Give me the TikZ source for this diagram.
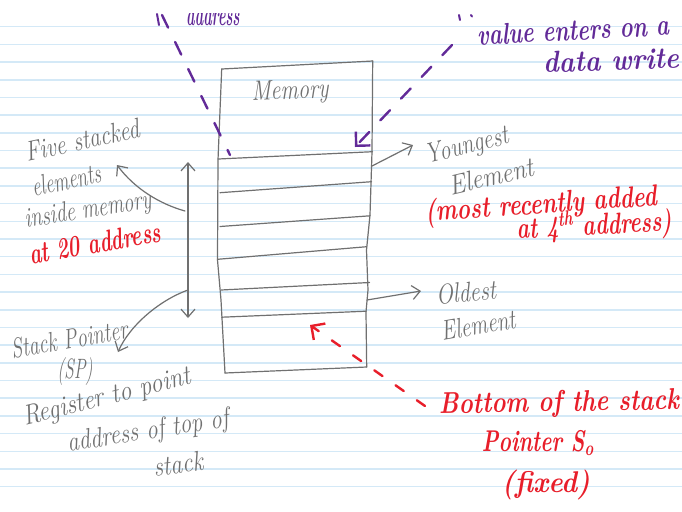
\documentclass[tikz,border=0pt]{standalone}
\usetikzlibrary{arrows.meta}
\newdimen\pxu \pxu=0.5pt
% squeeze a text horizontally to a given width (in drawing units)
\newcommand{\fitw}[2]{\resizebox{#1\pxu}{\height}{#2}}
\definecolor{ink}{RGB}{112,112,112}
\definecolor{redink}{RGB}{232,30,42}
\definecolor{purpleink}{RGB}{98,42,152}
\definecolor{rulecol}{RGB}{212,233,247}
\tikzset{
  ruling/.style={draw=rulecol, line width=0.75pt},
  pencil/.style={draw=ink, line width=0.6pt, line cap=round, line join=round},
  graytext/.style={text=ink, inner sep=0pt, font=\fontsize{14}{16}\selectfont\itshape},
  redtext/.style={text=redink, inner sep=0pt, font=\fontsize{15}{18}\selectfont\bfseries\itshape},
  purpletext/.style={text=purpleink, inner sep=0pt, font=\fontsize{15}{18}\selectfont\bfseries\itshape},
  purpledash/.style={draw=purpleink, line width=1.2pt, line cap=round, dash pattern=on 7pt off 8pt},
  reddash/.style={draw=redink, line width=1.2pt, line cap=round, dash pattern=on 5pt off 8pt},
  pentip/.style={>={Straight Barb[length=4pt,width=7pt]}},
  markertip/.style={>={Straight Barb[length=5pt,width=10pt]}}
}
\begin{document}
\begin{tikzpicture}[x=0.5pt, y=-0.5pt]
  % sheet of ruled paper
  \fill[white] (0,0) rectangle (682,511);
  \useasboundingbox (0,0) rectangle (682,511);
  \clip (0,0) rectangle (682,511);
  \foreach \k in {0,...,26} {
    \draw[ruling] (0,{26.7+17.69*\k}) -- (682,{26.7+17.69*\k});
  }

  % memory block
  \coordinate (mTL) at (221.7,69);
  \coordinate (mTR) at (372.7,61);
  \coordinate (mBL) at (225,373);
  \coordinate (mBR) at (366.7,367);
  \draw[pencil] (mTL) -- (mTR);
  \draw[pencil] (mTL) -- (218,160) -- (217.5,260) -- (221,300) -- (mBL);
  \draw[pencil] (mTR) -- (372,152) -- (370,215) -- (366.5,250) -- (368,290) -- (366,312) -- (mBR);
  \draw[pencil] (mBL) -- (mBR);
  % stacked slots
  \draw[pencil] (218.3,159) -- (372.5,151.7);
  \draw[pencil] (220,192.7) -- (371.5,181.7);
  \draw[pencil] (220,226.5) -- (370,215.8);
  \draw[pencil] (217.5,259.3) -- (366.7,246.7);
  \draw[pencil] (221,290) -- (369.5,282.5);
  \draw[pencil] (221.7,317.2) -- (366.2,311.2);
  \node[graytext, rotate=2] (memlabel) at (290,92) {\fitw{77}{Memory}};

  % left notes
  \node[graytext, rotate=12] (five) at (82,140) {\fitw{116}{Five stacked}};
  \node[graytext, rotate=12] (elems) at (66,180) {\fitw{70}{elements}};
  \node[graytext, rotate=9] (inside) at (88,211) {\fitw{128}{inside memory}};
  \node[redtext, rotate=10] (addr20) at (95,243) {\fitw{133}{at 20 address}};
  \node[graytext, rotate=10] (sp) at (69,339) {\fitw{118}{Stack Pointer}};
  \node[graytext] (spabbr) at (75,372) {\fitw{35}{(SP)}};
  \node[graytext, rotate=14] (reg) at (107,398) {\fitw{172}{Register to point}};
  \node[graytext, rotate=9] (topof) at (148,432) {\fitw{163}{address of top of}};
  \node[graytext, rotate=8] (stk) at (178,464) {\fitw{50}{stack}};

  % stack pointer range and its pointers
  \coordinate (vTop) at (188,162);
  \coordinate (vBot) at (188,318);
  \coordinate (vMid) at (185,211);
  \coordinate (vLow) at (188,290);
  \coordinate (fiveHead) at (117,165);
  \coordinate (spHead) at (118,352);
  \draw[pencil, pentip, <->] (vTop) -- (vBot);
  \draw[pencil, pentip, ->] (vMid) .. controls (160,204) and (135,189) .. (fiveHead);
  \draw[pencil, pentip, ->] (vLow) .. controls (160,300) and (130,325) .. (spHead);

  % right notes
  \node[graytext, rotate=14] (young) at (467,147) {\fitw{85}{Youngest}};
  \node[graytext, rotate=13] (youngel) at (491,176) {\fitw{86}{Element}};
  \node[redtext, rotate=4] (recent) at (541,206) {\fitw{232}{(most recently added}};
  \node[redtext, rotate=3] (fourth) at (594,226) {\fitw{155}{at 4\textsuperscript{th} address)}};
  \node[graytext, rotate=5] (oldest) at (466,292) {\fitw{60}{Oldest}};
  \node[graytext, rotate=10] (oldel) at (478,325) {\fitw{75}{Element}};
  \coordinate (yTail) at (372,166);
  \coordinate (yHead) at (413,145);
  \coordinate (oTail) at (367,300);
  \coordinate (oHead) at (421,291);
  \draw[pencil, pentip, ->] (yTail) -- (yHead);
  \draw[pencil, pentip, ->] (oTail) -- (oHead);

  % bottom-of-stack note
  \node[redtext, rotate=1] (bottom) at (559,404) {\fitw{240}{Bottom of the stack}};
  \node[redtext] (pointer) at (538,443) {\fitw{112}{Pointer S\textsubscript{o}}};
  \node[redtext] (fixed) at (546,485) {\fitw{88}{(fixed)}};
  \coordinate (redStart) at (425,406);
  \coordinate (redEnd) at (310,325);
  \draw[reddash, markertip, ->] (redStart) -- (redEnd);

  % data write note
  \node[purpletext, rotate=3] (valuel) at (573,30) {\fitw{192}{value enters on a}};
  \node[purpletext, rotate=2] (dataw) at (611,60) {\fitw{136}{data write}};
  \coordinate (pTopR) at (452,45);
  \coordinate (pSlotR) at (355,147);
  \draw[purpledash, markertip, ->] (pTopR) -- (pSlotR);
  \draw[draw=purpleink, line width=1pt, line cap=round] (459,15) -- (460,20);
  \draw[draw=purpleink, line width=1pt, line cap=round] (471,15) -- (472,16.5);

  % address note at the top edge
  \node[purpletext, anchor=base] (cutword) at (213,25) {\fitw{53}{address}};
  \coordinate (pTopL) at (162,15);
  \coordinate (pSlotL) at (230,155);
  \draw[purpledash] (pTopL) -- (pSlotL);
  \draw[draw=purpleink, line width=1pt, line cap=round] (157,14) -- (159,25);
  \fill[white] (0,-1) rectangle (682,12.5);
\end{tikzpicture}
\end{document}
